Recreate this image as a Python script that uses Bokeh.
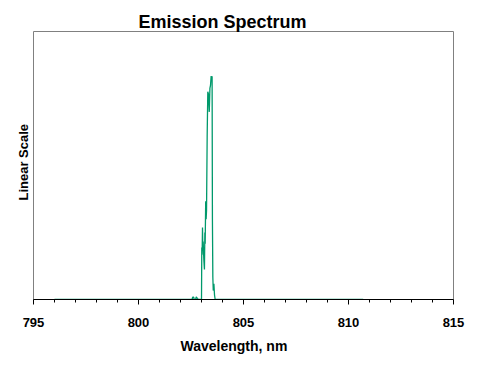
from bokeh.plotting import figure
from bokeh.models import Range1d, FixedTicker, Title, ColumnDataSource
from bokeh.embed import file_html
from bokeh.resources import INLINE

# Data (wavelength in nm, relative intensity)
wavelength = [796.0, 802.55, 802.58, 802.63, 802.65, 802.72, 802.75, 802.80, 802.85,
              803.00, 803.014, 803.03, 803.048, 803.065, 803.08, 803.11, 803.14,
              803.16, 803.175, 803.20, 803.22, 803.24, 803.27, 803.30, 803.33,
              803.37, 803.40, 803.43, 803.46, 803.49, 803.505, 803.52, 803.54,
              803.56, 803.59, 803.62, 803.65, 810.7]
intensity = [0.0, 0.0, 0.010, 0.010, 0.0, 0.0, 0.012, 0.005, 0.0,
             0.0, 0.233, 0.20, 0.322, 0.22, 0.26, 0.18, 0.134,
             0.30, 0.25, 0.44, 0.36, 0.40, 0.73, 0.93, 0.92,
             0.84, 0.945, 0.96, 1.0, 0.99, 1.0, 0.36, 0.10,
             0.04, 0.07, 0.02, 0.0, 0.0]

major_ticks = [795, 800, 805, 810, 815]
minor_ticks = [796, 797, 798, 799, 801, 802, 803, 804, 806, 807, 808, 809,
               811, 812, 813, 814]

title_text = "Emission Spectrum"
xlabel_text = "Wavelength, nm"
ylabel_text = "Linear Scale"

FONT = "Liberation Sans"

p = figure(width=490, height=365, output_backend="svg", toolbar_location=None,
           x_range=Range1d(795, 815), y_range=Range1d(0, 1.2),
           min_border_left=33, min_border_right=37, min_border_top=31,
           min_border_bottom=66)
p.background_fill_color = "white"
p.border_fill_color = "white"
p.outline_line_color = "#808080"
p.outline_line_width = 1
p.xgrid.visible = False
p.ygrid.visible = False
p.yaxis.visible = False

src = ColumnDataSource(dict(x=wavelength, y=intensity))
p.line("x", "y", source=src, line_color="#00996B", line_width=1.3)

ax = p.xaxis[0]
ax.ticker = FixedTicker(ticks=major_ticks, minor_ticks=minor_ticks)
ax.axis_line_color = "black"
ax.axis_line_width = 1
ax.major_tick_line_color = "black"
ax.minor_tick_line_color = "black"
ax.major_tick_in = 0
ax.major_tick_out = 5
ax.minor_tick_in = 0
ax.minor_tick_out = 3
ax.major_label_text_font = FONT
ax.major_label_text_font_style = "bold"
ax.major_label_text_font_size = "13px"
ax.major_label_text_color = "black"
ax.major_label_standoff = 13

p.title.text = title_text
p.title.text_font = FONT
p.title.text_font_style = "bold"
p.title.text_font_size = "18px"
p.title.text_color = "black"
p.title.align = "left"
p.title.offset = 105
p.title.standoff = 0

p.add_layout(Title(text=xlabel_text, text_font=FONT, text_font_style="bold",
                   text_font_size="14px", text_color="black", align="left",
                   offset=147, standoff=12), "below")
p.add_layout(Title(text=ylabel_text, text_font=FONT, text_font_style="bold",
                   text_font_size="13px", text_color="black", align="left",
                   offset=99, standoff=5), "left")

open("out.html", "w").write(file_html(p, INLINE))
